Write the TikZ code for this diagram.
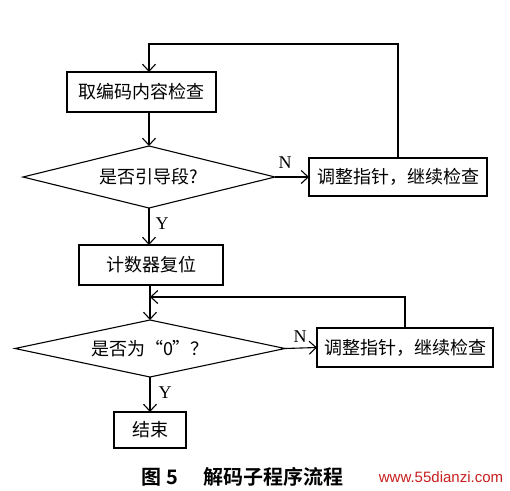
\documentclass[tikz,border=0pt]{standalone}
\usepackage{fontspec}
\setmainfont{Liberation Serif}
\newfontfamily\cjk{Noto Sans CJK SC}
\newfontfamily\cjkb{Noto Sans CJK SC Bold}
\newfontfamily\arialf{Liberation Sans}
\usetikzlibrary{shapes.geometric,arrows.meta}
\tikzset{
  every node/.style={inner sep=0pt, outer sep=0pt},
  procbox/.style={draw, line width=1.1pt, font=\cjk\fontsize{18}{20}\selectfont},
  decision/.style={draw, diamond, aspect=4, line width=1.1pt, font=\cjk\fontsize{18}{20}\selectfont},
  arr/.style={line width=1.1pt, -{Straight Barb[length=7pt,width=13pt,line width=1.1pt]}},
  yn/.style={font=\fontsize{18}{20}\selectfont}
}
\begin{document}
\begin{tikzpicture}[x=1pt,y=-1pt]
\useasboundingbox[fill=white] (0,0) rectangle (510,490);
\node[procbox, minimum width=149pt, minimum height=40pt] (b1) at (141.5,92) {取编码内容检查};
\node[decision, minimum width=252pt, minimum height=62pt] (d1) at (149,177) {是否引导段?};
\node[procbox, minimum width=178pt, minimum height=38pt] (r1) at (398,177) {调整指针，继续检查};
\node[procbox, minimum width=144pt, minimum height=40pt] (b2) at (151,265) {计数器复位};
\node[decision, minimum width=270pt, minimum height=57pt] (d2) at (150,348.5) {是否为“0”？};
\node[procbox, minimum width=176pt, minimum height=39pt] (r2) at (405,347.5) {调整指针，继续检查};
\node[procbox, minimum width=72pt, minimum height=36pt] (e) at (150,430) {结束};
\coordinate (t1) at (149,44);
\coordinate (m2) at (150,297);
\draw[arr] (b1.south -| d1.north) -- (d1.north);
\draw[arr] (d1.east) -- (r1.west);
\draw[arr] (r1.north) |- (t1) -- (b1.north -| t1);
\draw[arr] (d1.south) -- (b2.north -| d1.south);
\draw[arr] (b2.south -| d2.north) -- (d2.north);
\draw[arr] (r2.north) |- (m2);
\draw[arr] (d2.east) -- (r2.west);
\draw[arr] (d2.south) -- (e.north);
\node[yn] (n1) at (285,163) {N};
\node[yn] (y1) at (162,224) {Y};
\node[yn] (n2) at (300,337) {N};
\node[yn] (y2) at (165,393) {Y};
\node[font=\cjkb\fontsize{20}{22}\selectfont] (cap1) at (160,477) {图 5};
\node[font=\cjkb\fontsize{20}{22}\selectfont] (cap2) at (273,477) {解码子程序流程};
\node[font=\arialf\fontsize{15}{17}\selectfont, text={rgb,255:red,200;green,30;blue,30}] (wm) at (441,477) {www.55dianzi.com};
\end{tikzpicture}
\end{document}
